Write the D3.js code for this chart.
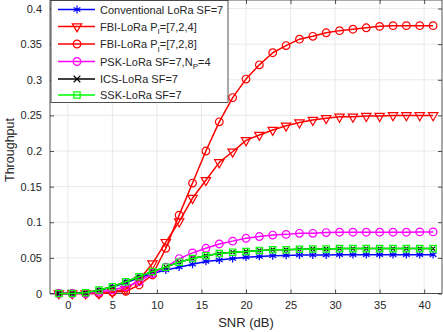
<!DOCTYPE html>
<html>
<head>
<meta charset="utf-8">
<script src="https://cdn.jsdelivr.net/npm/d3@7"></script>
<style>
  body { margin: 0; background: #fff; }
  svg text { font-family: "Liberation Sans", Arial, Helvetica, sans-serif; fill: #262626; }
</style>
</head>
<body>
<script>
// SNR points (dB)
const snr = [-1, 0.5, 2, 3.5, 5, 6.5, 8, 9.5, 11, 12.5, 14, 15.5, 17, 18.5, 20,
  21.5, 23, 24.5, 26, 27.5, 29, 30.5, 32, 33.5, 35, 36.5, 38, 39.5, 41];

const convLora = [0, 0, 0.001, 0.004, 0.009, 0.015, 0.022, 0.028, 0.033, 0.037, 0.041, 0.045, 0.047, 0.049, 0.051,
  0.052, 0.053, 0.0535, 0.054, 0.054, 0.054, 0.0545, 0.0545, 0.0545, 0.0545, 0.0545, 0.0545, 0.0545, 0.0545];
const fbi724 = [0, 0, 0, 0, 0.002, 0.006, 0.019, 0.042, 0.072, 0.101, 0.134, 0.159, 0.184, 0.199, 0.215,
  0.2225, 0.2295, 0.2355, 0.24, 0.2435, 0.246, 0.248, 0.248, 0.249, 0.249, 0.25, 0.25, 0.25, 0.25];
const fbi728 = [0, 0, 0, 0, 0.002, 0.003, 0.012, 0.026, 0.0635, 0.11, 0.155, 0.2, 0.241, 0.275, 0.301,
  0.321, 0.338, 0.348, 0.357, 0.361, 0.366, 0.369, 0.371, 0.373, 0.375, 0.376, 0.376, 0.376, 0.376];
const pskLora = [0, 0, 0, 0.002, 0.005, 0.0096, 0.0166, 0.028, 0.037, 0.049, 0.057, 0.0635, 0.0695, 0.0735, 0.0775,
  0.08, 0.082, 0.083, 0.0845, 0.0845, 0.0855, 0.086, 0.086, 0.086, 0.086, 0.086, 0.086, 0.0865, 0.0865];
const icsLora = [0, 0, 0.001, 0.005, 0.0096, 0.0166, 0.0236, 0.031, 0.037, 0.044, 0.049, 0.053, 0.056, 0.058, 0.059,
  0.0605, 0.0615, 0.0615, 0.062, 0.0625, 0.0625, 0.063, 0.063, 0.063, 0.063, 0.063, 0.063, 0.063, 0.063];
const sskLora = [0, 0, 0.001, 0.005, 0.0096, 0.0166, 0.0236, 0.031, 0.037, 0.044, 0.049, 0.053, 0.056, 0.058, 0.059,
  0.0605, 0.0615, 0.0615, 0.062, 0.0625, 0.0625, 0.063, 0.063, 0.063, 0.063, 0.063, 0.063, 0.063, 0.063];

const xTicks = [0, 5, 10, 15, 20, 25, 30, 35, 40];
const yTicks = [0, 0.05, 0.1, 0.15, 0.2, 0.25, 0.3, 0.35, 0.4];

// legend labels: [main, subscript, rest]
const series = [
  {name: ['Conventional LoRa SF=7', '', ''], values: convLora, color: '#0000ff', marker: 'star'},
  {name: ['FBI-LoRa P', 'I', '=[7,2,4]'], values: fbi724, color: '#ff0000', marker: 'tri'},
  {name: ['FBI-LoRa P', 'I', '=[7,2,8]'], values: fbi728, color: '#ff0000', marker: 'circle'},
  {name: ['PSK-LoRa SF=7,N', 'P', '=4'], values: pskLora, color: '#ff00ff', marker: 'circle'},
  {name: ['ICS-LoRa SF=7', '', ''], values: icsLora, color: '#000000', marker: 'times'},
  {name: ['SSK-LoRa SF=7', '', ''], values: sskLora, color: '#00ff00', marker: 'square'}
];

const width = 443, height = 332;
const plot = {left: 50, right: 442, top: 0, bottom: 293.5};

const x = d3.scaleLinear().domain([-2, 42]).range([plot.left, plot.right]);
const y = d3.scaleLinear().domain([0, 0.412]).range([plot.bottom, plot.top]);

const svg = d3.select('body').append('svg')
  .attr('width', width)
  .attr('height', height);

// grid
svg.append('g').selectAll('line.gx')
  .data(xTicks).enter().append('line')
  .attr('x1', d => x(d)).attr('x2', d => x(d))
  .attr('y1', plot.top).attr('y2', plot.bottom)
  .attr('stroke', '#e3e3e3').attr('stroke-width', 0.8);
svg.append('g').selectAll('line.gy')
  .data(yTicks).enter().append('line')
  .attr('y1', d => y(d)).attr('y2', d => y(d))
  .attr('x1', plot.left).attr('x2', plot.right)
  .attr('stroke', '#e3e3e3').attr('stroke-width', 0.8);

// axes, ticks inward on all four sides
const tickLen = 4;
const axisColor = '#262626';
const xAxisB = d3.axisBottom(x).tickValues(xTicks).tickSize(-tickLen).tickPadding(8);
const xAxisT = d3.axisTop(x).tickValues(xTicks).tickSize(-tickLen).tickFormat('');
const yAxisL = d3.axisLeft(y).tickValues(yTicks).tickSize(-tickLen).tickPadding(8).tickFormat(d3.format('~g'));
const yAxisR = d3.axisRight(y).tickValues(yTicks).tickSize(-tickLen).tickFormat('');

function styleAxis(g) {
  g.selectAll('.domain').remove();
  g.selectAll('line').attr('stroke', axisColor).attr('stroke-width', 0.8);
  g.selectAll('text').style('font-size', '11px').attr('fill', '#262626');
}
svg.append('g').attr('transform', `translate(0,${plot.bottom})`).call(xAxisB).call(styleAxis);
svg.append('g').attr('transform', `translate(0,${plot.top})`).call(xAxisT).call(styleAxis);
svg.append('g').attr('transform', `translate(${plot.left},0)`).call(yAxisL).call(styleAxis);
svg.append('g').attr('transform', `translate(${plot.right},0)`).call(yAxisR).call(styleAxis);

svg.append('rect')
  .attr('x', plot.left).attr('y', plot.top)
  .attr('width', plot.right - plot.left).attr('height', plot.bottom - plot.top)
  .attr('fill', 'none').attr('stroke', axisColor).attr('stroke-width', 0.8);

// axis labels
svg.append('text')
  .attr('x', (plot.left + plot.right) / 2).attr('y', 327)
  .attr('text-anchor', 'middle')
  .style('font-size', '13px')
  .text('SNR (dB)');
svg.append('text')
  .attr('transform', 'translate(14,150) rotate(-90)')
  .attr('text-anchor', 'middle')
  .style('font-size', '12.5px')
  .text('Throughput');

// markers
function markerPath(type, inLegend) {
  if (type === 'circle') return d3.symbol(d3.symbolCircle, 46)();
  if (type === 'square') return d3.symbol(d3.symbolSquare, 40)();
  if (type === 'tri') return d3.symbol(d3.symbolTriangle, 38)();
  if (type === 'times') return d3.symbol(d3.symbolTimes, inLegend ? 30 : 12)();
  return d3.symbol(d3.symbolAsterisk, 42)();
}
function drawMarker(g, type, cx, cy, color, inLegend) {
  g.append('path')
    .attr('d', markerPath(type, inLegend))
    .attr('transform', `translate(${cx},${cy})` + (type === 'tri' ? ' rotate(180)' : ''))
    .attr('fill', 'none')
    .attr('stroke', color)
    .attr('stroke-width', 1.2);
}

const line = d3.line().x(d => x(d[0])).y(d => y(d[1]));

series.forEach(s => {
  const pts = snr.map((v, i) => [v, s.values[i]]);
  const g = svg.append('g');
  g.append('path')
    .datum(pts)
    .attr('d', line)
    .attr('fill', 'none')
    .attr('stroke', s.color)
    .attr('stroke-width', 1.5)
    .attr('stroke-linejoin', 'round');
  pts.forEach(p => drawMarker(g, s.marker, x(p[0]), y(p[1]), s.color, false));
});

// legend
const leg = svg.append('g');
leg.append('rect')
  .attr('x', 51).attr('y', 0.5)
  .attr('width', 177).attr('height', 102)
  .attr('fill', '#fff')
  .attr('stroke', axisColor).attr('stroke-width', 0.8);

const rowY = [9.5, 26.5, 44, 61.5, 79, 95];
series.forEach((s, i) => {
  const cy = rowY[i];
  leg.append('line')
    .attr('x1', 58).attr('x2', 95).attr('y1', cy).attr('y2', cy)
    .attr('stroke', s.color).attr('stroke-width', 1.5);
  drawMarker(leg, s.marker, 77, cy, s.color, true);
  const t = leg.append('text')
    .attr('x', 100).attr('y', cy + 4)
    .style('font-size', '11px')
    .attr('fill', '#000');
  t.append('tspan').text(s.name[0]);
  if (s.name[1]) {
    t.append('tspan').attr('dy', 3.5).style('font-size', '8px').text(s.name[1]);
    t.append('tspan').attr('dy', -3.5).text(s.name[2]);
  }
});
</script>
</body>
</html>
